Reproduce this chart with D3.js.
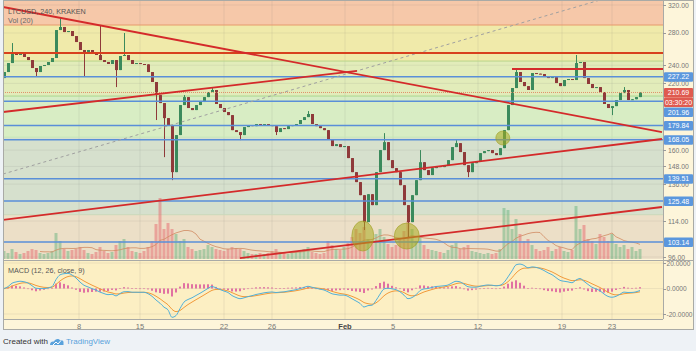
<!DOCTYPE html>
<html><head><meta charset="utf-8">
<script src="https://cdn.jsdelivr.net/npm/d3@7"></script>
<style>
html,body{margin:0;padding:0;background:#eef2f6;}
svg{display:block;font-family:"Liberation Sans",Arial,sans-serif;}
</style></head><body>
<svg id="c" width="696" height="351"></svg>
<script>
// ---------------- DATA ----------------
const closes = [
 232.3,242.5,255.6,252.0,253.2,249.6,246.0,236.8,232.3,239.1,
 240.2,243.7,248.4,283.9,288.1,281.2,282.6,275.9,268.1,258.1,
 255.6,258.1,254.4,252.0,246.0,243.7,241.4,246.0,234.5,250.8,
 252.0,246.0,241.4,242.5,241.4,241.0,232.3,221.5,208.1,200.3,
 186.4,180.3,144.0,171.9,198.4,206.1,195.6,193.7,198.4,201.3,
 206.1,211.1,213.2,199.4,195.6,191.9,189.1,176.0,174.4,171.9,
 178.6,180.3,179.4,181.2,180.3,181.2,180.3,179.4,174.4,177.7,
 176.9,179.4,180.3,181.2,184.7,187.3,190.1,181.2,179.4,177.7,
 176.0,168.6,163.1,164.6,162.3,163.1,154.0,144.0,137.3,129.0,
 113.4,129.6,123.0,144.0,160.0,166.2,152.5,146.8,144.0,135.3,
 123.0,113.4,129.0,138.6,151.0,145.4,142.0,146.8,148.2,147.5,
 148.9,152.5,162.3,165.4,158.5,148.9,144.0,150.3,151.8,157.7,
 159.2,160.0,157.7,156.2,161.5,176.0,198.4,215.2,232.3,221.5,
 217.2,213.2,231.2,230.5,230.1,227.9,225.7,226.8,220.4,217.2,
 223.6,224.7,223.6,242.5,243.7,225.7,219.4,215.2,216.2,211.1,
 199.4,195.6,197.4,203.2,210.1,213.2,203.2,204.0,206.1,210.69
];
const firstOpen = 225.7;
// [candle index, high, low] for wicks
const wicks = [
 [2,266.8,null],[8,null,227.9],[14,302.2,null],[20,null,227.9],[24,290.8,null],
 [28,null,216.2],[30,279.9,null],[38,null,184.7],[40,null,154.7],[42,null,138.6],
 [45,208.1,null],[52,215.2,null],[59,null,167.8],[68,null,171.9],[76,192.8,null],
 [90,null,109.2],[95,173.5,null],[101,null,105.1],[104,160.0,null],[113,167.8,null],
 [116,null,140.6],[128,236.8,null],[143,252.0,null],[152,null,189.1],[155,216.2,null]
];
const volumes = [
 800,600,1000,700,500,600,800,1000,900,600,500,600,800,
 2600,1800,1000,800,900,1000,1200,900,600,500,700,1200,800,600,700,1400,1800,2000,1200,800,
 700,600,800,1200,1800,3500,6100,3000,3600,3000,2500,1800,2000,1200,1000,800,900,1000,1400,1200,1000,900,800,1000,1200,1100,1000,800,600,500,500,600,
 500,600,800,1000,700,600,500,600,800,900,1000,1200,700,600,500,600,
 1800,1400,1000,900,1200,1600,2200,3000,2600,3200,2000,1800,2500,3000,2200,1500,1200,1400,2000,2800,3800,3000,1800,2200,1400,1000,900,800,700,600,900,1400,1600,1000,1200,1400,800,700,600,500,600,500,600,1000,
 5100,4900,3000,4000,2500,1800,2000,1400,1000,800,900,1200,800,1000,1200,800,700,900,5300,3000,3400,2000,1800,1500,2500,2200,1800,2500,1500,1200,1400,1000,1200,800,1000
];
const timeTickLabels = ["8","15","22","26","Feb","5","12","19","23"];
const timeTickIdx = [18.75,34,55,67,85.25,97.25,118.5,139.5,152];
const priceTicks = [320,280,240,220,160,148,136,114,96];
const levelPrices = [227.22,201.96,179.84,168.05,139.51,125.48,103.14];
const lastPrice = 210.69;
const countdownText = "03:30:20";
const fibLevels = [290.8,244.8,207.1,170.2,117.5];
const macdTicks = [20,0,-20];
// trend lines: [idx1, price1, idx2, price2]
const redTrends = [
 [-0.25,317.0,164.5,174.4],
 [-0.25,191.9,88.25,233.5],
 [-0.25,114.6,164.5,168.7],
 [59,95.5,164.5,121.9]
];
const redHorizontals = [[-1,254.4],[127,235.7]]; // [start idx, price]
const dottedTrend = [-0.25,142.7,149,327.7];
const circles = [[89.7,106.1],[100.7,106.1],[124.7,169.5]];

// ---------------- STYLES ----------------
const bandColors = ["#f6c8a9","#f0eaaa","#e2ecba","#d8edc4","#d6e0cd","#ecdfc7"];
const fibLineColors = ["#e79a6c","#b8d489","#a9d68e","#c4e8b6","#c9d8bb"];
const circleR = [[11,15],[12.5,13],[7,7]];

// ---------------- SETUP ----------------
const svg = d3.select("#c");
const plotL=3, plotR=663, axisR=694, priceBot=259, macdTop=261, macdBot=319, axisBot=330;
const x = d3.scaleLinear().domain([-1,164.75]).range([0,663]);
const y = d3.scaleLog().domain([96,320]).range([257,5]);
const yVol = d3.scaleLinear().domain([0,6300]).range([259,196]);
const yM = d3.scaleLinear().domain([-20,20]).range([314,263]);

const defs = svg.append("defs");
defs.append("clipPath").attr("id","cp").append("rect").attr("x",plotL).attr("y",0).attr("width",plotR-plotL).attr("height",priceBot);
defs.append("clipPath").attr("id","cm").append("rect").attr("x",plotL).attr("y",macdTop).attr("width",plotR-plotL).attr("height",macdBot-macdTop);

svg.append("rect").attr("x",plotL).attr("y",0).attr("width",axisR-plotL).attr("height",axisBot).attr("fill","#fdf5da");
svg.append("rect").attr("x",plotL).attr("y",macdTop).attr("width",plotR-plotL).attr("height",macdBot-macdTop).attr("fill","#fcefc3");

const gp = svg.append("g").attr("clip-path","url(#cp)");
const edges = [400].concat(fibLevels).concat([80]);
for(let k=0;k<edges.length-1;k++){
  gp.append("rect").attr("x",plotL).attr("width",plotR-plotL)
    .attr("y",y(edges[k])).attr("height",y(edges[k+1])-y(edges[k])).attr("fill",bandColors[k]);
}
gp.selectAll("line.vg").data(timeTickIdx).join("line").attr("class","vg")
  .attr("x1",d=>x(d)).attr("x2",d=>x(d)).attr("y1",0).attr("y2",priceBot)
  .attr("stroke","rgba(110,110,110,0.13)");
gp.selectAll("line.hg").data(priceTicks).join("line").attr("class","hg")
  .attr("x1",plotL).attr("x2",plotR).attr("y1",d=>y(d)).attr("y2",d=>y(d))
  .attr("stroke","rgba(110,110,110,0.10)");
gp.selectAll("line.fib").data(fibLevels).join("line").attr("class","fib")
  .attr("x1",plotL).attr("x2",plotR).attr("y1",d=>y(d)).attr("y2",d=>y(d))
  .attr("stroke",(d,i)=>fibLineColors[i]).attr("stroke-width",1);

const data = closes.map((c,i)=>{const o=i===0?firstOpen:closes[i-1];return {i,o,c,h:Math.max(o,c),l:Math.min(o,c),v:volumes[i]};});
wicks.forEach(([i,h,l])=>{if(h!=null)data[i].h=h; if(l!=null)data[i].l=l;});

gp.selectAll("rect.vol").data(data).join("rect").attr("class","vol")
  .attr("x",d=>x(d.i)-1.5).attr("width",3)
  .attr("y",d=>yVol(d.v)).attr("height",d=>yVol(0)-yVol(d.v))
  .attr("fill",d=>d.c>=d.o?"rgba(90,175,120,0.45)":"rgba(230,90,100,0.45)");
const volMA = data.map((d,i)=>{ if(i<9) return null; return d3.mean(volumes.slice(i-9,i+1)); });
gp.append("path").datum(data.filter((d,i)=>volMA[i]!=null))
  .attr("d",d3.line().x(d=>x(d.i)).y(d=>yVol(volMA[d.i])))
  .attr("fill","none").attr("stroke","#d08a62").attr("stroke-width",0.8);

const upC="#3b8a5c", dnC="#8f3a3a";
gp.selectAll("line.wick").data(data).join("line").attr("class","wick")
  .attr("x1",d=>x(d.i)+0.5).attr("x2",d=>x(d.i)+0.5).attr("y1",d=>y(d.h)).attr("y2",d=>y(d.l))
  .attr("stroke",d=>d.c>=d.o?upC:dnC).attr("stroke-width",1);
gp.selectAll("rect.body").data(data).join("rect").attr("class","body")
  .attr("x",d=>x(d.i)-1).attr("width",3)
  .attr("y",d=>y(Math.max(d.o,d.c))).attr("height",d=>Math.max(1,Math.abs(y(d.o)-y(d.c))))
  .attr("fill",d=>d.c>=d.o?upC:dnC);

gp.selectAll("line.lvl").data(levelPrices).join("line").attr("class","lvl")
  .attr("x1",plotL).attr("x2",plotR).attr("y1",d=>y(d)).attr("y2",d=>y(d))
  .attr("stroke","#5a8fd8").attr("stroke-width",1.5);
gp.append("line").attr("x1",x(dottedTrend[0])).attr("y1",y(dottedTrend[1]))
  .attr("x2",x(dottedTrend[2])).attr("y2",y(dottedTrend[3]))
  .attr("stroke","#a0a0a0").attr("stroke-width",1).attr("stroke-dasharray","3,3");
gp.append("line").attr("x1",plotL).attr("x2",plotR).attr("y1",y(lastPrice)).attr("y2",y(lastPrice))
  .attr("stroke","#e0906a").attr("stroke-width",1).attr("stroke-dasharray","1,1");
gp.selectAll("line.rh").data(redHorizontals).join("line").attr("class","rh")
  .attr("x1",d=>x(d[0])).attr("x2",plotR).attr("y1",d=>y(d[1])).attr("y2",d=>y(d[1]))
  .attr("stroke",(d,i)=>i===0?"#d8401e":"#d42c2c").attr("stroke-width",2);
gp.selectAll("line.rt").data(redTrends).join("line").attr("class","rt")
  .attr("x1",d=>x(d[0])).attr("y1",d=>y(d[1])).attr("x2",d=>x(d[2])).attr("y2",d=>y(d[3]))
  .attr("stroke","#d42a2a").attr("stroke-width",1.8);
gp.selectAll("ellipse").data(circles).join("ellipse")
  .attr("cx",d=>x(d[0])).attr("cy",d=>y(d[1]))
  .attr("rx",(d,i)=>circleR[i][0]).attr("ry",(d,i)=>circleR[i][1])
  .attr("fill","rgba(170,170,30,0.55)").attr("stroke","rgba(160,160,40,0.6)");

svg.append("text").attr("x",8).attr("y",13.5).attr("font-size",7.2).attr("fill","#555").text("LTCUSD, 240, KRAKEN");
svg.append("text").attr("x",8).attr("y",23).attr("font-size",7.2).attr("fill","#666").text("Vol (20)");

// ---------------- MACD ----------------
function ema(arr,n){const a=2/(n+1);let e=arr[0];return arr.map((v,i)=>i===0?e:(e=a*v+(1-a)*e));}
const e1=ema(closes,6), e2=ema(closes,13);
const macd=e1.map((v,i)=>v-e2[i]);
const sig=ema(macd,4.5);
const hist=macd.map((v,i)=>v-sig[i]);
const gm=svg.append("g").attr("clip-path","url(#cm)");
gm.selectAll("line.mvg").data(timeTickIdx).join("line").attr("class","mvg")
  .attr("x1",d=>x(d)).attr("x2",d=>x(d)).attr("y1",macdTop).attr("y2",macdBot)
  .attr("stroke","rgba(110,110,110,0.12)");
gm.selectAll("line.mhg").data(macdTicks).join("line").attr("class","mhg")
  .attr("x1",plotL).attr("x2",plotR).attr("y1",d=>yM(d)).attr("y2",d=>yM(d))
  .attr("stroke","rgba(110,110,110,0.10)");
gm.selectAll("rect.h").data(hist).join("rect").attr("class","h")
  .attr("x",(d,i)=>x(i)-1).attr("width",2)
  .attr("y",d=>Math.min(yM(d),yM(0))).attr("height",d=>Math.max(0.6,Math.abs(yM(d)-yM(0))))
  .attr("fill","#dc5a9c").attr("opacity",0.85);
gm.append("path").datum(sig).attr("d",d3.line().x((d,i)=>x(i)).y(d=>yM(d)).curve(d3.curveMonotoneX))
  .attr("fill","none").attr("stroke","#f29a3a").attr("stroke-width",1);
gm.append("path").datum(macd).attr("d",d3.line().x((d,i)=>x(i)).y(d=>yM(d)).curve(d3.curveMonotoneX))
  .attr("fill","none").attr("stroke","#52b0d8").attr("stroke-width",1);
svg.append("text").attr("x",8).attr("y",272.5).attr("font-size",7.2).attr("fill","#555").text("MACD (12, 26, close, 9)");

// ---------------- AXES / FRAME ----------------
const frame = svg.append("g").attr("stroke","#a9aaa6").attr("fill","none");
frame.append("rect").attr("x",plotL+0.5).attr("y",0.5).attr("width",axisR-plotL-1).attr("height",axisBot-1);
frame.append("line").attr("x1",plotR+0.5).attr("x2",plotR+0.5).attr("y1",0).attr("y2",macdBot);
frame.append("line").attr("x1",plotL).attr("x2",axisR).attr("y1",260.5).attr("y2",260.5);
frame.append("line").attr("x1",plotL).attr("x2",plotR).attr("y1",macdBot+0.5).attr("y2",macdBot+0.5);

const fmt=d3.format(".2f");
const pa=svg.append("g");
pa.selectAll("line").data(priceTicks).join("line").attr("x1",plotR).attr("x2",plotR+3)
  .attr("y1",d=>Math.round(y(d))+0.5).attr("y2",d=>Math.round(y(d))+0.5).attr("stroke","#999");
pa.selectAll("text").data(priceTicks).join("text").attr("x",668).attr("y",d=>y(d)+2.5)
  .attr("font-size",6.8).attr("fill","#777").text(d=>fmt(d));
const ma=svg.append("g");
ma.selectAll("line").data(macdTicks).join("line").attr("x1",plotR).attr("x2",plotR+3)
  .attr("y1",d=>Math.round(yM(d))+0.5).attr("y2",d=>Math.round(yM(d))+0.5).attr("stroke","#999");
ma.selectAll("text").data(macdTicks).join("text").attr("x",666.5).attr("y",d=>yM(d)+2.5)
  .attr("font-size",6.6).attr("fill","#777").text(d=>d3.format(".4f")(d).replace("\u2212","-"));

let labels = levelPrices.map(p=>({t:fmt(p),y:y(p),c:"#5b97dd"}));
labels.push({t:fmt(lastPrice),y:y(lastPrice),c:"#df5a4f"});
labels.sort((a,b)=>a.y-b.y);
const out=[]; let prev=-100;
labels.forEach(l=>{
  let yy=Math.max(l.y,prev+10); out.push({...l,y:yy}); prev=yy;
  if(l.t===fmt(lastPrice)){ prev=yy+9.5; out.push({t:countdownText,y:prev,c:"#df5a4f"}); }
});
const lg=svg.append("g");
lg.selectAll("rect").data(out).join("rect").attr("x",664).attr("y",d=>d.y-4.5).attr("width",29).attr("height",9.5)
  .attr("rx",1).attr("fill",d=>d.c);
lg.selectAll("text").data(out).join("text").attr("x",678.5).attr("y",d=>d.y+2.6).attr("text-anchor","middle")
  .attr("font-size",7).attr("fill","#fff").text(d=>d.t);

svg.append("g").selectAll("text").data(timeTickIdx).join("text")
  .attr("x",d=>x(d)).attr("y",328.5).attr("text-anchor","middle").attr("font-size",7.5)
  .attr("fill",(d,i)=>timeTickLabels[i]==="Feb"?"#444":"#777")
  .attr("font-weight",(d,i)=>timeTickLabels[i]==="Feb"?"bold":"normal")
  .text((d,i)=>timeTickLabels[i]);

// footer
svg.append("text").attr("x",3).attr("y",344).attr("font-size",8).attr("fill","#333").text("Created with");
const logo=svg.append("g").attr("transform","translate(50,337)");
logo.append("path").attr("d","M0,8 C0,5 2,4 4,4.5 C5,1.5 9,1 10.5,3.5 C12,2.5 14,4 13.5,6 L13.5,8 Z").attr("fill","#5aa2dc");
logo.append("path").attr("d","M3,8 L6,5 L8,7 L11,3.5").attr("fill","none").attr("stroke","#fff").attr("stroke-width",1);
svg.append("text").attr("x",66).attr("y",344).attr("font-size",8).attr("fill","#5aa2dc").text("TradingView");
</script>
</body></html>
